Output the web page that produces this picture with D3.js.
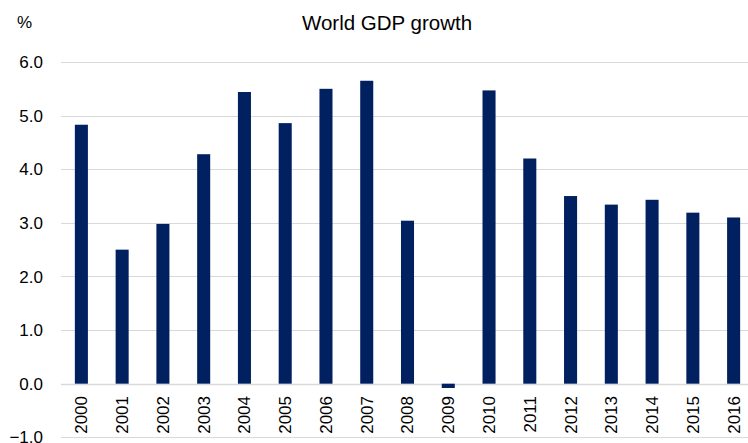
<!DOCTYPE html>
<meta charset="utf-8">
<style>
  body { margin: 0; background: #fff; }
  text { font-family: "Liberation Sans", Arial, sans-serif; fill: #000; }
</style>
<body>
<script src="https://d3js.org/d3.v7.min.js"></script>
<script>

// Data.

var years = ["2000", "2001", "2002", "2003", "2004", "2005", "2006", "2007", "2008",
             "2009", "2010", "2011", "2012", "2013", "2014", "2015", "2016"];
var growth = [4.83, 2.50, 2.98, 4.28, 5.44, 4.86, 5.50, 5.65, 3.04,
              -0.08, 5.47, 4.20, 3.50, 3.34, 3.43, 3.19, 3.10];
var yTicks = [-1, 0, 1, 2, 3, 4, 5, 6];

var width = 748,
    height = 443;

var svg = d3.select("body").append("svg")
    .attr("width", width)
    .attr("height", height);

// Scales; the plot runs a little past the right edge of the window.

var x = d3.scaleBand()
    .domain(years)
    .range([61, 754])
    .paddingInner(0.68)
    .paddingOuter(0.34);

var y = d3.scaleLinear()
    .domain([-1, 6])
    .range([437.3, 62]);

// Gridlines.

svg.append("g")
    .selectAll("line")
    .data(yTicks)
    .join("line")
    .attr("x1", 61)
    .attr("x2", 754)
    .attr("y1", function(d) { return Math.round(y(d)) + 0.5; })
    .attr("y2", function(d) { return Math.round(y(d)) + 0.5; })
    .attr("stroke", "#d9d9d9")
    .attr("stroke-width", function(d) { return d === 0 ? 1.5 : 1; });

// Y axis labels.

svg.append("g")
    .selectAll("text")
    .data(yTicks)
    .join("text")
    .attr("x", 43)
    .attr("y", function(d) { return y(d); })
    .attr("dy", "0.36em")
    .attr("text-anchor", "end")
    .attr("font-size", "17px")
    .text(function(d) { return d3.format(".1f")(d); });

// Bars.

svg.append("g")
    .selectAll("rect")
    .data(growth)
    .join("rect")
    .attr("x", function(d, i) { return x(years[i]); })
    .attr("width", x.bandwidth())
    .attr("y", function(d) { return y(Math.max(0, d)); })
    .attr("height", function(d) { return Math.abs(y(d) - y(0)); })
    .attr("fill", "#002060");

// Year labels, rotated.

svg.append("g")
    .selectAll("text")
    .data(years)
    .join("text")
    .attr("transform", function(d) {
        return "translate(" + (x(d) + x.bandwidth() / 2) + ",396) rotate(-90)";
    })
    .attr("dy", "0.35em")
    .attr("text-anchor", "end")
    .attr("font-size", "17px")
    .text(function(d) { return d; });

// Title and unit.

svg.append("text")
    .attr("x", 387)
    .attr("y", 30)
    .attr("text-anchor", "middle")
    .attr("font-size", "20.5px")
    .text("World GDP growth");

svg.append("text")
    .attr("x", 17)
    .attr("y", 28)
    .attr("font-size", "17px")
    .text("%");

</script>
